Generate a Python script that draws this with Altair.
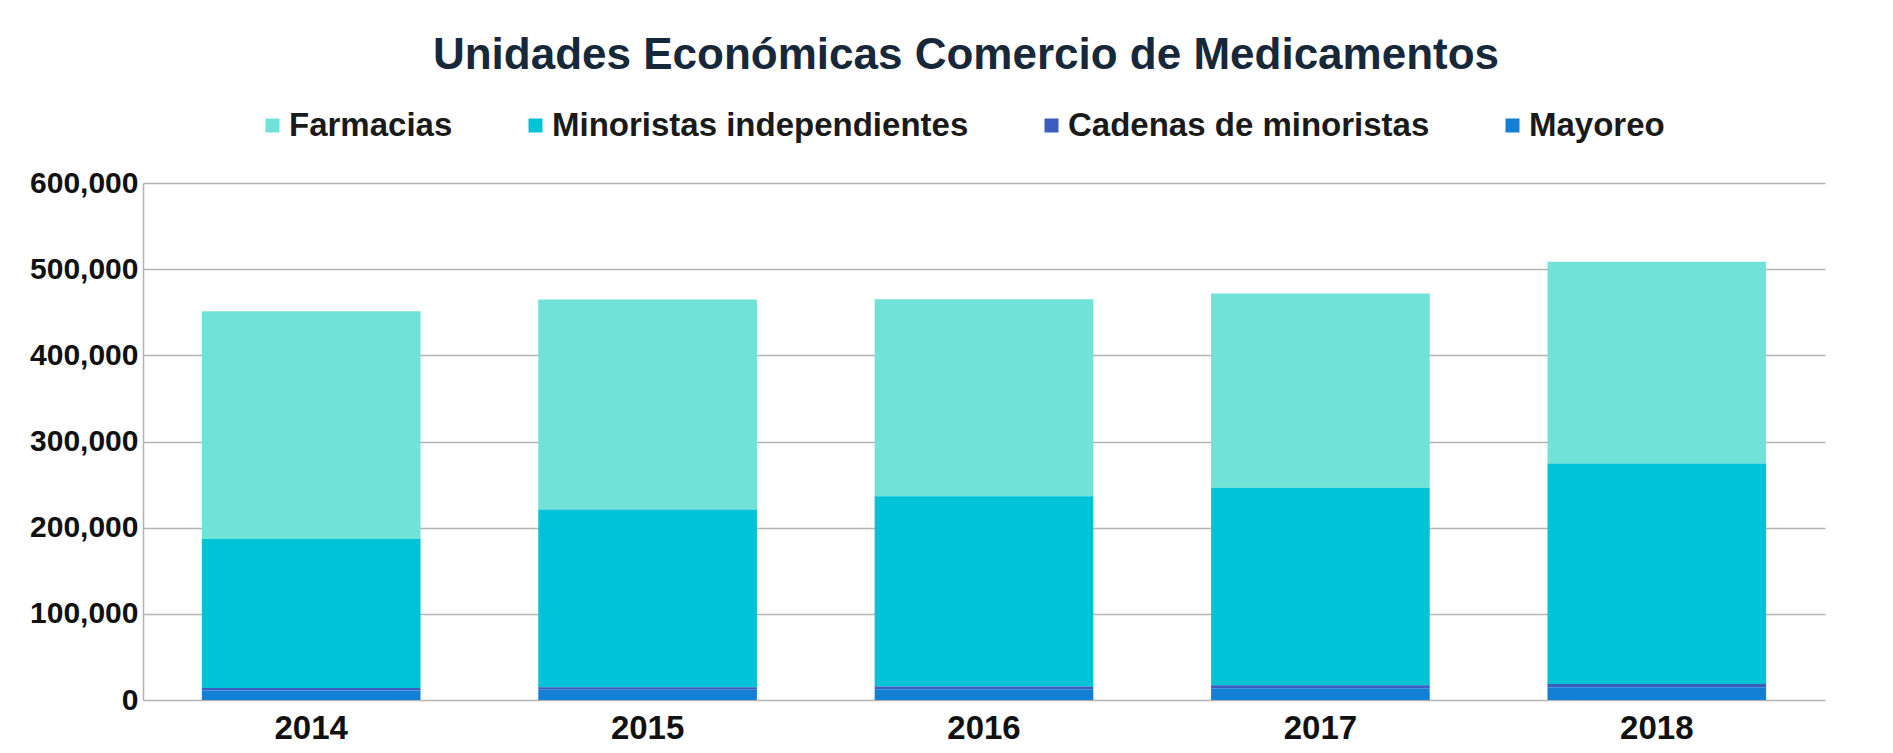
import altair as alt
import pandas as pd

years = ["2014", "2015", "2016", "2017", "2018"]
series = ["Farmacias", "Minoristas independientes", "Cadenas de minoristas", "Mayoreo"]
farmacias = [264500, 243700, 228600, 225400, 233900]
minoristas = [173000, 206200, 220600, 229200, 256000]
cadenas = [2800, 3000, 3300, 3600, 3900]
mayoreo = [11000, 11800, 12500, 13500, 14700]
colors = ["#70E2D7", "#00C3D8", "#3A5DBF", "#1380D6"]
stack_order = {"Mayoreo": 0, "Cadenas de minoristas": 1, "Minoristas independientes": 2, "Farmacias": 3}

rows = []
for name, vals in zip(series, [farmacias, minoristas, cadenas, mayoreo]):
    for y, v in zip(years, vals):
        rows.append({"Año": y, "Serie": name, "Valor": v, "orden": stack_order[name]})
df = pd.DataFrame(rows)

FONT = "Liberation Sans"

chart = alt.Chart(df).mark_bar().encode(
    x=alt.X("Año:N", sort=years, title=None,
            scale=alt.Scale(paddingInner=0.35, paddingOuter=0.175),
            axis=alt.Axis(labelAngle=0, labelFont=FONT, labelFontWeight="bold",
                          labelFontSize=33, labelColor="#111111", ticks=False,
                          domain=False, labelPadding=12, grid=False)),
    y=alt.Y("Valor:Q", stack="zero", title=None,
            scale=alt.Scale(domain=[0, 600000]),
            axis=alt.Axis(values=[0, 100000, 200000, 300000, 400000, 500000, 600000],
                          format=",d", labelFont=FONT, labelFontWeight="bold",
                          labelFontSize=30, labelColor="#111111", ticks=False,
                          labelPadding=5, domain=True, domainColor="#b3b3b3",
                          domainWidth=1.5, grid=True, gridColor="#b3b3b3",
                          gridWidth=1.5)),
    color=alt.Color("Serie:N", scale=alt.Scale(domain=series, range=colors),
                    legend=alt.Legend(title=None, orient="none", legendX=113, legendY=-74,
                                      direction="horizontal", columns=4, columnPadding=66,
                                      gridAlign="none",
                                      symbolType="square", symbolSize=196,
                                      symbolStrokeWidth=0, labelOffset=0,
                                      labelFont=FONT, labelFontWeight="bold",
                                      labelFontSize=33, labelColor="#1a1a1a",
                                      labelLimit=700)),
    order=alt.Order("orden:Q", sort="ascending"),
).properties(
    width=1682,
    height=517,
    title=alt.TitleParams("Unidades Económicas Comercio de Medicamentos",
                          font=FONT, fontSize=44, fontWeight="bold", color="#17283b",
                          anchor="middle", frame="group", baseline="alphabetic",
                          offset=0, dy=4, dx=-18),
    padding={"left": 135, "top": 175, "right": 60, "bottom": 45},
    autosize=alt.AutoSizeParams(type="none"),
).configure(
    background="#ffffff",
    view=alt.ViewConfig(stroke=None),
)

chart.save("out.html", embed_options={"renderer": "svg", "actions": False})
